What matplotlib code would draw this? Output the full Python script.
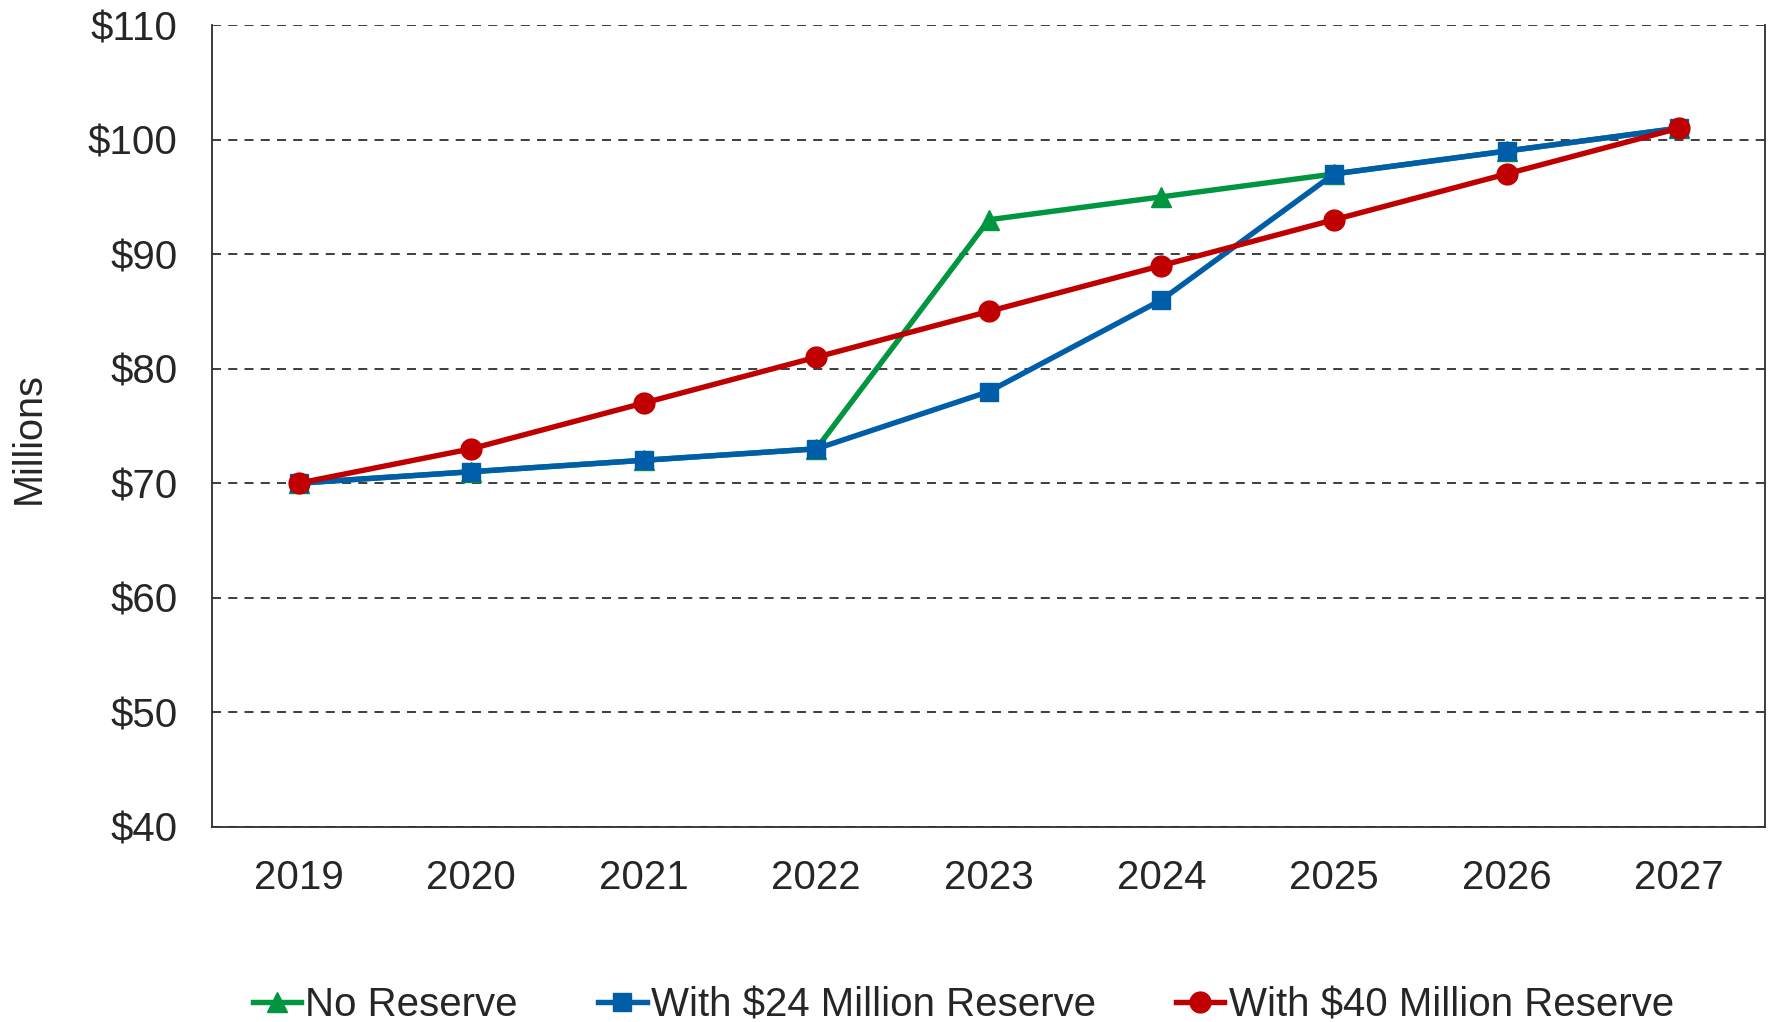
import matplotlib
matplotlib.use("Agg")
from matplotlib import pyplot as plt
import numpy as np

plt.rcParams['font.family'] = ['Liberation Sans', 'DejaVu Sans']

years = ['2019', '2020', '2021', '2022', '2023', '2024', '2025', '2026', '2027']
no_reserve = [70, 71, 72, 73, 93, 95, 97, 99, 101]
reserve_24 = [70, 71, 72, 73, 78, 86, 97, 99, 101]
reserve_40 = [70, 73, 77, 81, 85, 89, 93, 97, 101]
y_ticks = [40, 50, 60, 70, 80, 90, 100, 110]

txt = '#262626'
fig = plt.figure(figsize=(17.69, 10.22), dpi=100)
ax = fig.add_axes([0.12, 0.191, 0.878, 0.7845])

x = np.arange(len(years))
ax.plot(x, no_reserve, color='#00963F', lw=3.9, marker='^', ms=14.5, label='No Reserve', zorder=3)
ax.plot(x, reserve_24, color='#005EA8', lw=3.9, marker='s', ms=12.5, label='With $24 Million Reserve', zorder=4)
ax.plot(x, reserve_40, color='#C00000', lw=3.9, marker='o', ms=15, label='With $40 Million Reserve', zorder=5)

ax.set_xlim(-0.5, len(years) - 0.5)
ax.set_ylim(40, 110)
ax.set_xticks(x)
ax.set_xticklabels(years)
ax.set_yticks(y_ticks)
ax.set_yticklabels(['$%d' % v for v in y_ticks])
ax.tick_params(length=0, labelsize=29, labelcolor=txt)
ax.tick_params(axis='x', pad=23)
ax.tick_params(axis='y', pad=25)

ax.yaxis.grid(True, linestyle=(0, (5, 4)), color='#2e2e2e', lw=1.3)
ax.set_axisbelow(True)
ax.spines['top'].set_visible(False)
for s in ['left', 'right', 'bottom']:
    ax.spines[s].set_color('#2e2e2e')
    ax.spines[s].set_linewidth(1.3)

fig.text(0.016, 0.571, 'Millions', rotation=90, ha='center', va='center', fontsize=28.5, color=txt)

fig.legend(loc='center', bbox_to_anchor=(0.5445, 0.0165), ncol=3, frameon=False,
           fontsize=29, handlelength=1.2, handletextpad=0.1, columnspacing=2.0,
           labelcolor=txt)

fig.savefig('out.png', dpi=100)
